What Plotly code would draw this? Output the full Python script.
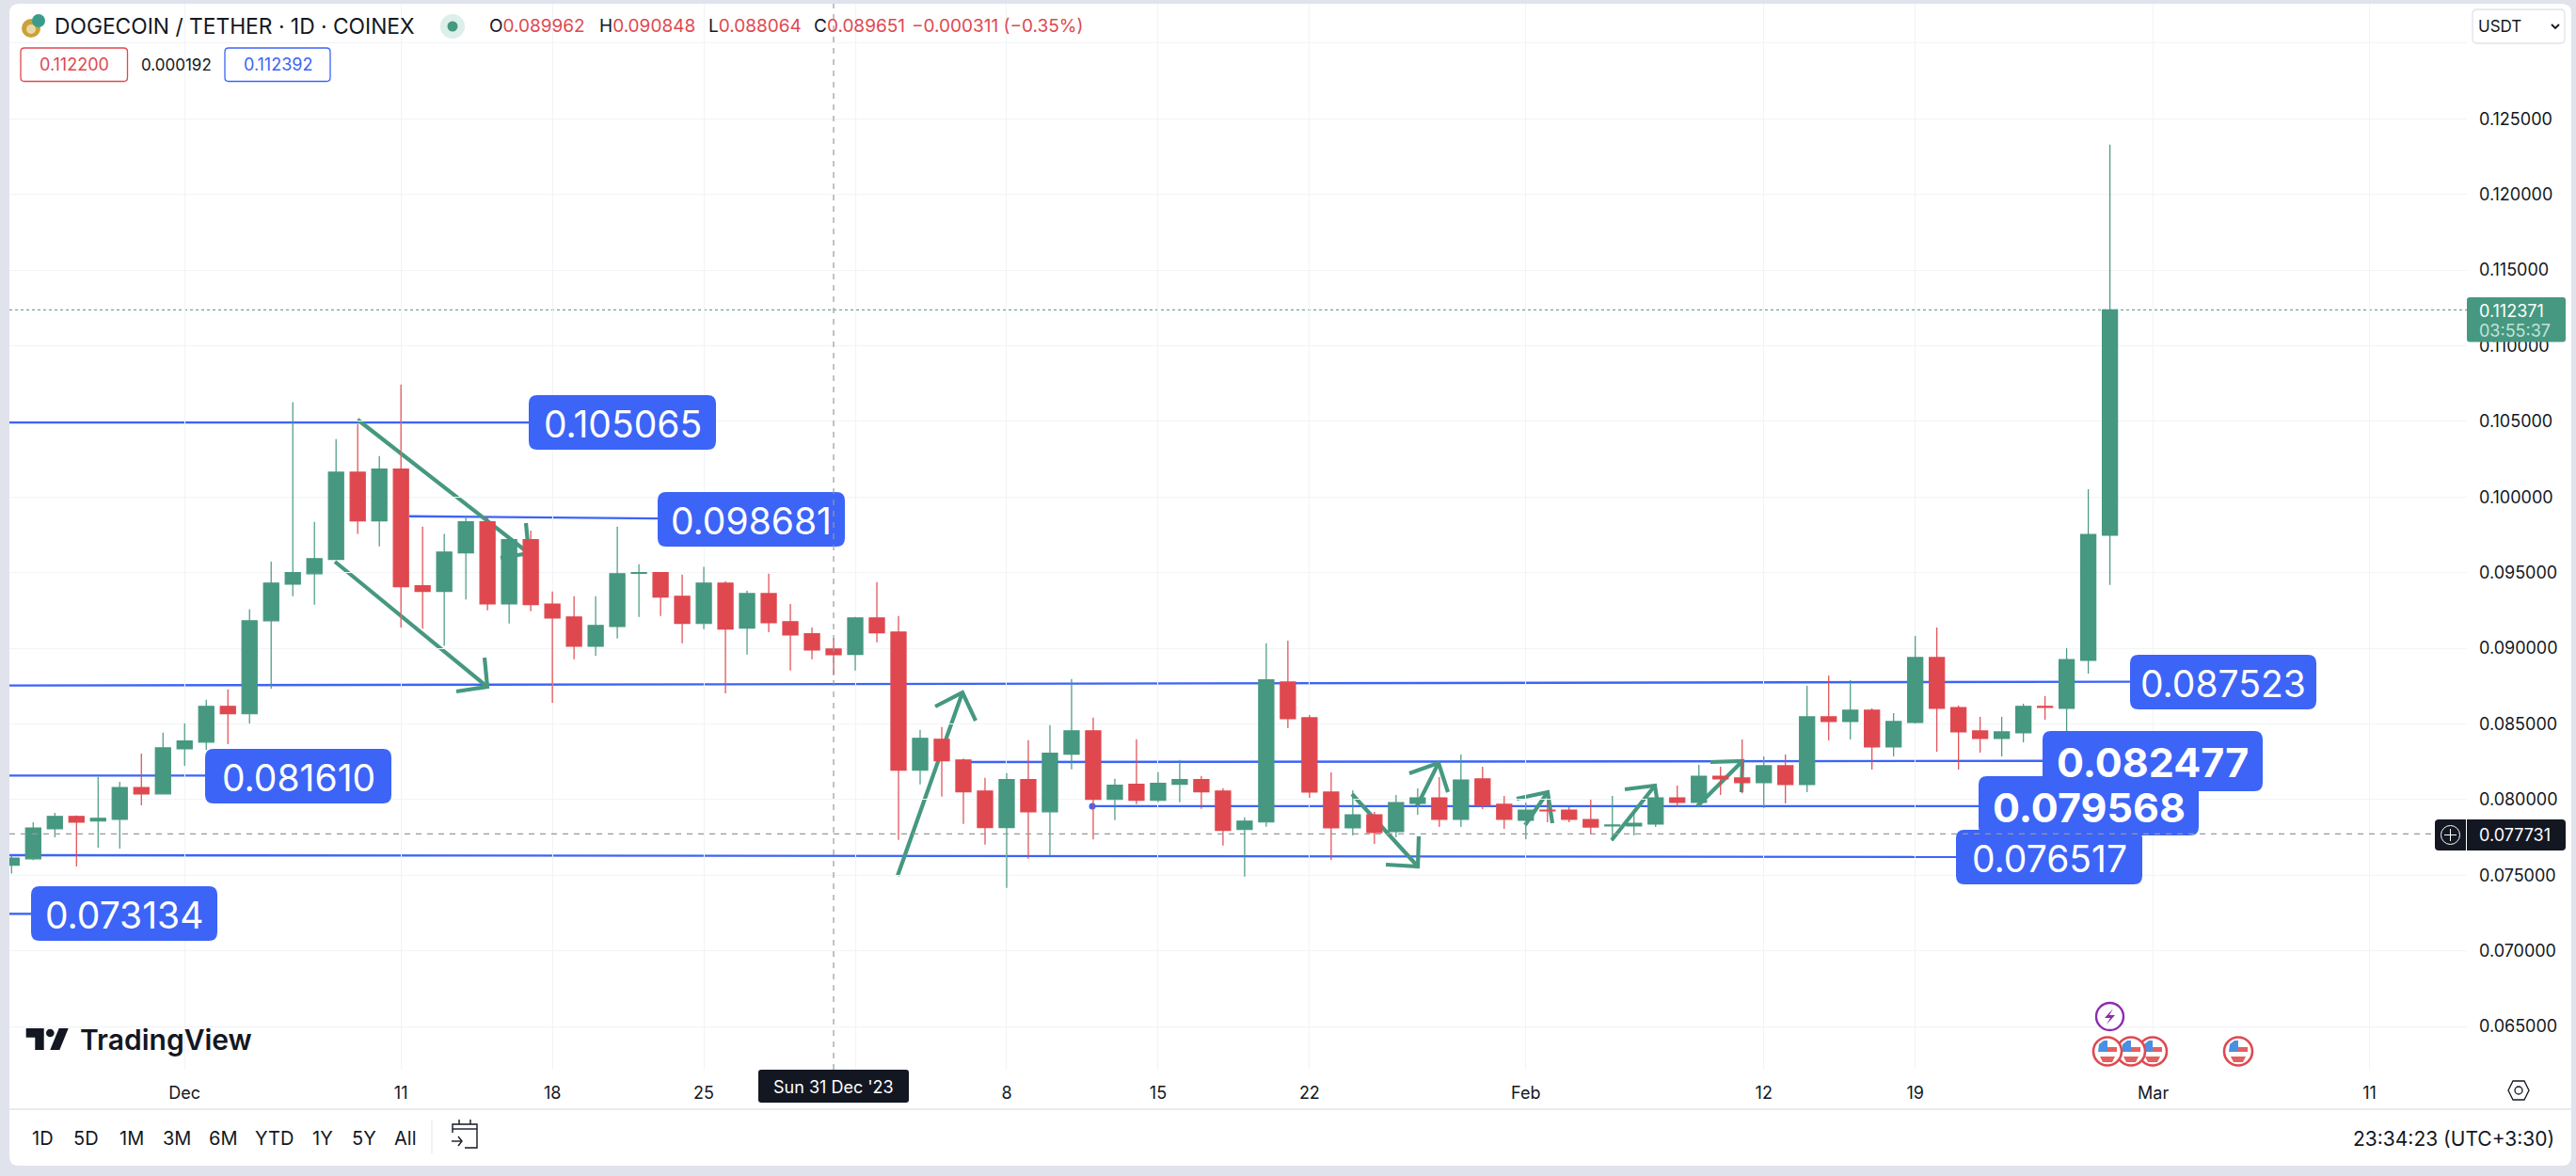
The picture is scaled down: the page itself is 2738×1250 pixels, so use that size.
import pandas as pd
import plotly.graph_objects as go

# Daily candles, Nov 23 2023 to Feb 28 2024
dates = pd.date_range("2023-11-23", "2024-02-28")
opens = [
    0.07567, 0.07609, 0.07807, 0.07889, 0.07858, 0.07869, 0.0808, 0.08038,
    0.08336, 0.0838, 0.08616, 0.08567, 0.09182, 0.09424, 0.09493, 0.09587, 0.10164, 0.09842, 0.10184,
    0.09413, 0.09376, 0.09631, 0.09836, 0.09293, 0.09718, 0.09293, 0.09207, 0.09013, 0.09144, 0.09496,
    0.095, 0.09344, 0.09164, 0.09431, 0.09133, 0.09362, 0.09176, 0.09096, 0.08996,
    0.08959, 0.09201, 0.09108, 0.08194, 0.08399, 0.08262, 0.08057, 0.07815, 0.08132, 0.0792, 0.083,
    0.08455, 0.08001, 0.08101, 0.07995, 0.08101, 0.08132, 0.08057, 0.07802, 0.07852, 0.08777, 0.08541,
    0.0805, 0.07813, 0.079, 0.07788, 0.07975, 0.08012, 0.07869, 0.08137, 0.07969,
    0.07863, 0.07931, 0.07931, 0.07869, 0.07826, 0.07826, 0.07838, 0.08012, 0.07981, 0.08155, 0.08143,
    0.08112, 0.08224, 0.08099, 0.08547, 0.08516, 0.08591, 0.08348, 0.0851, 0.08939, 0.08609, 0.08454,
    0.08404, 0.08441, 0.08616, 0.08603, 0.0892, 0.09747,
]
highs = [
    0.07633, 0.07851, 0.07913, 0.07896, 0.08151, 0.08118, 0.08304, 0.08442,
    0.08504, 0.0866, 0.08729, 0.09258, 0.09573, 0.10627, 0.09836, 0.10382, 0.10482, 0.10271, 0.10744,
    0.09804, 0.09756, 0.09871, 0.09871, 0.0973, 0.09778, 0.09376, 0.09344, 0.09344, 0.09804, 0.09556,
    0.095, 0.09487, 0.09538, 0.09444, 0.09382, 0.09493, 0.09293, 0.09138, 0.09067,
    0.09208, 0.09438, 0.09214, 0.08461, 0.0848, 0.08271, 0.08144, 0.08175, 0.08393, 0.08493,
    0.08797, 0.08542, 0.08138, 0.08399, 0.08182, 0.08262, 0.08157, 0.08076, 0.07883, 0.09034, 0.09051,
    0.08559, 0.0818, 0.08062, 0.07919, 0.08031, 0.08074, 0.08149, 0.08298, 0.08217, 0.08025,
    0.07981, 0.07994, 0.0795, 0.08, 0.08025, 0.07938, 0.08012, 0.08093, 0.0823, 0.08217, 0.08398,
    0.08286, 0.08298, 0.08752, 0.08821, 0.0879, 0.08603, 0.08572, 0.09082, 0.09138, 0.08622, 0.08547,
    0.08547, 0.08634, 0.08684, 0.09, 0.10052, 0.12329,
]
lows = [
    0.07511, 0.076, 0.07751, 0.07558, 0.07682, 0.07676, 0.07962, 0.08038,
    0.08224, 0.08327, 0.08367, 0.08504, 0.08733, 0.09344, 0.09289, 0.09587, 0.09756, 0.09673, 0.09138,
    0.09129, 0.09016, 0.09322, 0.09251, 0.09164, 0.09244, 0.0864, 0.08927, 0.08951, 0.09064, 0.09207,
    0.09213, 0.09033, 0.09127, 0.08702, 0.08958, 0.09107, 0.08853, 0.08927, 0.08822,
    0.08853, 0.0904, 0.07734, 0.08101, 0.0802, 0.0784, 0.07703, 0.07417, 0.07609, 0.07628,
    0.082, 0.07737, 0.07864, 0.0797, 0.07983, 0.07983, 0.07939, 0.07697, 0.07491, 0.07821, 0.08472,
    0.08012, 0.07602, 0.07763, 0.07707, 0.07751, 0.079, 0.07819, 0.07819, 0.07938, 0.07807,
    0.07738, 0.0785, 0.0785, 0.07776, 0.07726, 0.07763, 0.07819, 0.0795, 0.0796, 0.08031, 0.08041,
    0.07944, 0.07975, 0.0805, 0.08392, 0.08398, 0.08199, 0.08286, 0.08504, 0.08317, 0.08199, 0.08311,
    0.08286, 0.08379, 0.08528, 0.08423, 0.08833, 0.09419,
]
closes = [
    0.07613, 0.07813, 0.07889, 0.07851, 0.07876, 0.0808, 0.08038, 0.08342,
    0.08387, 0.08616, 0.08567, 0.09182, 0.09431, 0.095, 0.09593, 0.10164, 0.09842, 0.10184, 0.09407,
    0.09376, 0.09636, 0.09836, 0.09293, 0.09718, 0.09289, 0.092, 0.09013, 0.09151, 0.09493, 0.095,
    0.09338, 0.09164, 0.09431, 0.09127, 0.09362, 0.09169, 0.09089, 0.08989, 0.08958,
    0.09201, 0.09102, 0.08194, 0.08405, 0.08256, 0.08051, 0.07815, 0.08132, 0.0792, 0.08306,
    0.08455, 0.08001, 0.08095, 0.07995, 0.08107, 0.08132, 0.08051, 0.07796, 0.07858, 0.08791, 0.08535,
    0.0805, 0.07813, 0.079, 0.07782, 0.07981, 0.08012, 0.07869, 0.0813, 0.07962, 0.07869,
    0.07931, 0.07925, 0.07869, 0.07819, 0.07832, 0.07844, 0.08012, 0.07981, 0.08155, 0.08137, 0.08112,
    0.08224, 0.08099, 0.08547, 0.08516, 0.08591, 0.08348, 0.08516, 0.08939, 0.08603, 0.08448, 0.08404,
    0.08448, 0.08616, 0.08609, 0.08926, 0.09753, 0.11237,
]

# Axis ticks
y_ticks = [0.065, 0.07, 0.075, 0.08, 0.085, 0.09, 0.095, 0.1, 0.105, 0.11, 0.115, 0.12, 0.125, 0.13]
x_tick_dates = ["2023-12-01", "2023-12-11", "2023-12-18", "2023-12-25", "2024-01-01", "2024-01-08",
                "2024-01-15", "2024-01-22", "2024-02-01", "2024-02-12", "2024-02-19", "2024-03-01", "2024-03-11"]
x_tick_text = ["Dec", "11", "18", "25", "", "8", "15", "22", "Feb", "12", "19", "Mar", "11"]

# Drawn horizontal levels: label, price at each end of the line
level_text = ["0.105065", "0.098681", "0.087523", "0.082477", "0.079568", "0.076517", "0.081610", "0.073134"]
level_start = [0.10493, 0.09873, 0.08754, 0.08248, 0.07957, 0.07633, 0.08159, 0.07245]
level_end = [0.10493, 0.09858, 0.08779, 0.08256, 0.07957, 0.07621, 0.08159, 0.07245]

last_price = 0.112371
cross_price = 0.077731
cross_date = "2023-12-31"

GREEN = "#469880"
RED = "#E04850"
BLUE = "#3C64F7"
DARK = "#131722"
GREY = "#E0E3EB"
FONT = "Inter"

W, H = 2738, 1250
L, R, T, B = 10, 2622, 4, 1137


def px(x):
    return (x - L) / (R - L)


def py(y):
    return 1 - (y - T) / (B - T)


def rbox(x0, y0, x1, y1, r, fill, line=None, layer="above"):
    p = (f"M {px(x0 + r)} {py(y0)} L {px(x1 - r)} {py(y0)} Q {px(x1)} {py(y0)} {px(x1)} {py(y0 + r)} "
         f"L {px(x1)} {py(y1 - r)} Q {px(x1)} {py(y1)} {px(x1 - r)} {py(y1)} "
         f"L {px(x0 + r)} {py(y1)} Q {px(x0)} {py(y1)} {px(x0)} {py(y1 - r)} "
         f"L {px(x0)} {py(y0 + r)} Q {px(x0)} {py(y0)} {px(x0 + r)} {py(y0)} Z")
    return dict(type="path", xref="paper", yref="paper", path=p, fillcolor=fill, layer=layer,
                line=dict(color=line or fill, width=1.3 if line else 0))


def poly(points, color, width=0, fill=None, close=False, layer="above"):
    p = "M " + " L ".join(f"{px(x)} {py(y)}" for x, y in points) + (" Z" if close else "")
    return dict(type="path", xref="paper", yref="paper", path=p, layer=layer, fillcolor=fill,
                line=dict(color=color, width=width))


def disc(cx, cy, r, fill, line=None, width=0, layer="above"):
    return dict(type="circle", xref="paper", yref="paper", x0=px(cx - r), x1=px(cx + r), y0=py(cy + r), y1=py(cy - r),
                fillcolor=fill, layer=layer, line=dict(color=line or fill, width=width))


def text(x, y, s, size=18, color=DARK, anchor="left", weight=None):
    fnt = dict(family=FONT, size=size, color=color)
    if weight:
        fnt["weight"] = weight
    return dict(xref="paper", yref="paper", x=px(x), y=py(y), text=s, showarrow=False, xanchor=anchor,
                yanchor="middle", font=fnt, borderpad=0)


shapes = []
notes = []

# white card on the grey page
shapes.append(rbox(10, 4, 2733, 1239, 10, "white", layer="below"))
shapes.append(dict(type="line", xref="paper", yref="paper", x0=px(10), x1=px(2733), y0=py(1179), y1=py(1179),
                   layer="below", line=dict(color=GREY, width=1.5)))
shapes.append(dict(type="line", xref="paper", yref="y", x0=px(L), x1=px(R), y0=last_price, y1=last_price,
                   layer="below", line=dict(color=GREEN, width=1, dash="dot")))

# level lines go under the candles, label boxes over them
line_x = [(10, 562), (435, 699), (10, 2264), (1023, 2171), (1161, 2103), (10, 2079), (10, 218), (10, 33)]
for (x0, x1), y0, y1 in zip(line_x, level_start, level_end):
    shapes.append(dict(type="line", xref="paper", yref="y", x0=px(x0), x1=px(x1), y0=y0, y1=y1, layer="below",
                       line=dict(color=BLUE, width=2.4)))
shapes.append(disc(1161, 857, 3.5, BLUE, layer="below"))

# hand drawn arrows
arrows = [
    [(380, 446), (562, 588)], [(559, 556), (562, 588), (532, 593)],
    [(356, 597), (518, 730)], [(515, 699), (518, 730), (485, 735)],
    [(954, 931), (1023, 736)], [(994, 751), (1023, 736), (1037, 766)],
    [(1437, 844), (1507, 921)], [(1508, 889), (1507, 921), (1473, 919)],
    [(1506, 857), (1529, 811)], [(1498, 822), (1529, 811), (1539, 842)],
    [(1621, 877), (1645, 842)], [(1612, 849), (1645, 842), (1650, 875)],
    [(1713, 893), (1759, 835)], [(1727, 839), (1759, 835), (1762, 855)],
    [(1804, 857), (1852, 809)], [(1818, 810), (1852, 809), (1851, 842)],
]
for a in arrows:
    shapes.append(poly(a, GREEN, width=4.2, layer="below"))

# level label boxes, drawn lowest first so they overlap as in the picture
boxes = [(562, 420, 761, 478, 39, None), (699, 523, 898, 581, 39, None), (2264, 696, 2462, 754, 39, None),
         (2171, 777, 2405, 841, 43, "bold"), (2103, 825, 2337, 888, 43, "bold"), (2079, 882, 2277, 940, 39, None),
         (218, 796, 416, 854, 39, None), (33, 942, 231, 1000, 39, None)]
for (x0, y0, x1, y1, size, weight), s in zip(boxes, level_text):
    shapes.append(rbox(x0, y0, x1, y1, 9, BLUE))
    notes.append(text((x0 + x1) / 2, (y0 + y1) / 2 + 1, s, size=size, color="white", anchor="center", weight=weight))

# crosshair
shapes.append(dict(type="line", xref="x", yref="paper", x0=cross_date, x1=cross_date, y0=0, y1=1, layer="above",
                   line=dict(color="#9598A1", width=1.2, dash="6px,6px")))
shapes.append(dict(type="line", xref="paper", yref="y", x0=px(L), x1=px(R), y0=cross_price, y1=cross_price,
                   layer="above", line=dict(color="#9598A1", width=1.2, dash="6px,6px")))

# price axis tags
shapes.append(rbox(2622, 316, 2727, 363.5, 3, GREEN))
notes.append(text(2634, 330, f"{last_price:.6f}", color="white"))
notes.append(text(2634, 351, "03:55:37", color="#C2E2D8"))
shapes.append(rbox(2588, 871, 2727, 904, 4, DARK))
shapes.append(dict(type="line", xref="paper", yref="paper", x0=px(2621.5), x1=px(2621.5), y0=py(871), y1=py(904),
                   layer="above", line=dict(color="white", width=1)))
shapes.append(disc(2604.5, 887.5, 10, DARK, line="white", width=1))
shapes.append(poly([(2598, 887.5), (2611, 887.5)], "white", width=1))
shapes.append(poly([(2604.5, 881), (2604.5, 894)], "white", width=1))
notes.append(text(2634, 888, f"{cross_price:.6f}", color="white"))

# crosshair date tag
shapes.append(rbox(806, 1137, 966, 1172, 3, DARK))
notes.append(text(886, 1155, "Sun 31 Dec '23", color="white", anchor="center"))

# header
shapes.append(disc(33, 30, 10, "#C9A23C"))
shapes.append(disc(33, 31, 5, "#E8D9A8"))
shapes.append(disc(41, 22, 7, "#3C9C8C"))
notes.append(text(57, 28, "DOGECOIN / TETHER · 1D · COINEX", size=22.8))
shapes.append(disc(481, 28, 13, "#DCEFEA"))
shapes.append(disc(481, 28, 5.5, GREEN))

ohlc_letters = ["O", "H", "L", "C"]
ohlc_values = ["0.089962", "0.090848", "0.088064", "0.089651"]
ohlc_x = [519, 635.5, 751.5, 864]
for x, letter, value in zip(ohlc_x, ohlc_letters, ohlc_values):
    notes.append(text(x, 28, f'{letter}<span style="color:{RED}">{value}</span>', size=19))
notes.append(text(968, 28, "−0.000311 (−0.35%)", size=19, color=RED))

shapes.append(rbox(22, 51, 135.5, 86.5, 4, "white", line=RED))
notes.append(text(78.5, 69, "0.112200", color=RED, anchor="center"))
notes.append(text(187, 69, "0.000192", anchor="center", size=17))
shapes.append(rbox(239, 51, 351, 86.5, 4, "white", line=BLUE))
notes.append(text(295, 69, "0.112392", color=BLUE, anchor="center"))

# currency button
shapes.append(rbox(2628, 10, 2726, 46, 5, "white", line=GREY))
notes.append(text(2633, 28, "USDT", size=17))
shapes.append(poly([(2712, 26), (2716, 30), (2720, 26)], DARK, width=1.8))

# TradingView mark
shapes.append(poly([(27.7, 1093), (46.7, 1093), (46.7, 1116), (37.3, 1116), (37.3, 1102.7), (27.7, 1102.7)],
                   DARK, fill=DARK, close=True))
shapes.append(disc(53.3, 1098, 4.3, DARK))
shapes.append(poly([(62.7, 1093), (72.7, 1093), (63.3, 1116), (53.3, 1116)], DARK, fill=DARK, close=True))
notes.append(text(84, 1105, "TradingView", size=30, weight=600))

# event markers
shapes.append(disc(2242.5, 1080.5, 14.5, "white", line="#8E2BB0", width=2.4))
shapes.append(poly([(2246, 1072), (2237, 1082), (2243, 1082), (2239, 1089), (2248, 1079), (2242, 1079)],
                   "#8E2BB0", fill="#8E2BB0", close=True))
for cx in [2288, 2265, 2240, 2379]:
    shapes.append(disc(cx, 1117.5, 15, "white", line=RED, width=2.6))
    shapes.append(poly([(cx, 1113), (cx + 10, 1113), (cx + 10, 1118), (cx, 1118)], "#E4605F", fill="#E4605F", close=True))
    shapes.append(poly([(cx - 8, 1123), (cx + 8, 1123), (cx + 5, 1129), (cx - 5, 1129)], "#E4605F", fill="#E4605F", close=True))
    shapes.append(poly([(cx - 10, 1118), (cx - 9, 1110), (cx - 4, 1106), (cx, 1106), (cx, 1118)], "#4A90E2", fill="#4A90E2", close=True))

# settings icon
shapes.append(poly([(2671, 1149), (2683, 1149), (2688, 1159), (2683, 1169), (2671, 1169), (2666, 1159)], DARK, width=1.3, close=True))
shapes.append(disc(2677, 1159, 4, "white", line=DARK, width=1.3))

# bottom toolbar
range_labels = ["1D", "5D", "1M", "3M", "6M", "YTD", "1Y", "5Y", "All"]
range_x = [45, 91, 139.5, 188, 237, 291, 343, 387.5, 431]
for x, s in zip(range_x, range_labels):
    notes.append(text(x, 1210, s, anchor="center", size=20))
shapes.append(dict(type="line", xref="paper", yref="paper", x0=px(459), x1=px(459), y0=py(1191), y1=py(1226),
                   layer="above", line=dict(color=GREY, width=1)))
shapes.append(poly([(481, 1204), (481, 1195), (507, 1195), (507, 1220), (494, 1220)], DARK, width=1.4))
shapes.append(poly([(481, 1200), (507, 1200)], DARK, width=1.4))
shapes.append(poly([(488, 1190), (488, 1195)], DARK, width=1.4))
shapes.append(poly([(500, 1190), (500, 1195)], DARK, width=1.4))
shapes.append(poly([(480, 1213), (491, 1213)], DARK, width=1.4))
shapes.append(poly([(487, 1208), (491, 1213), (487, 1218)], DARK, width=1.4))
notes.append(text(2716, 1210, "23:34:23 (UTC+3:30)", anchor="right", size=21))

fig = go.Figure()
fig.add_trace(go.Candlestick(
    x=dates, open=opens, high=highs, low=lows, close=closes,
    increasing=dict(line=dict(color=GREEN, width=1.2), fillcolor=GREEN),
    decreasing=dict(line=dict(color=RED, width=1.2), fillcolor=RED),
    hoverinfo="skip", showlegend=False,
))

fig.update_layout(
    width=W, height=H,
    margin=dict(l=L, r=W - R, t=T, b=H - B),
    paper_bgcolor=GREY, plot_bgcolor="rgba(0,0,0,0)",
    font=dict(family=FONT, size=18, color=DARK),
    boxgap=0.3, boxgroupgap=0,
    shapes=shapes, annotations=notes,
    xaxis=dict(
        type="date", range=["2023-11-22 21:36", "2024-03-15 12:00"], rangeslider=dict(visible=False),
        tickmode="array", tickvals=x_tick_dates, ticktext=x_tick_text,
        showgrid=True, gridcolor="#F1F3F6", gridwidth=1, showline=False, zeroline=False, ticks="",
        ticklabelstandoff=12,
    ),
    yaxis=dict(
        side="right", range=[0.06215, 0.1326],
        tickmode="array", tickvals=y_ticks,
        ticktext=[f"{v:.6f}" if v < 0.13 else "" for v in y_ticks],
        showgrid=True, gridcolor="#F1F3F6", gridwidth=1, showline=False, zeroline=False, ticks="",
        ticklabelstandoff=12,
    ),
)

# the page's default body margin would push the figure off its place
fig.write_html("out.html", config={"displayModeBar": False},
               post_script="document.body.style.margin='0';document.body.style.overflow='hidden';")
